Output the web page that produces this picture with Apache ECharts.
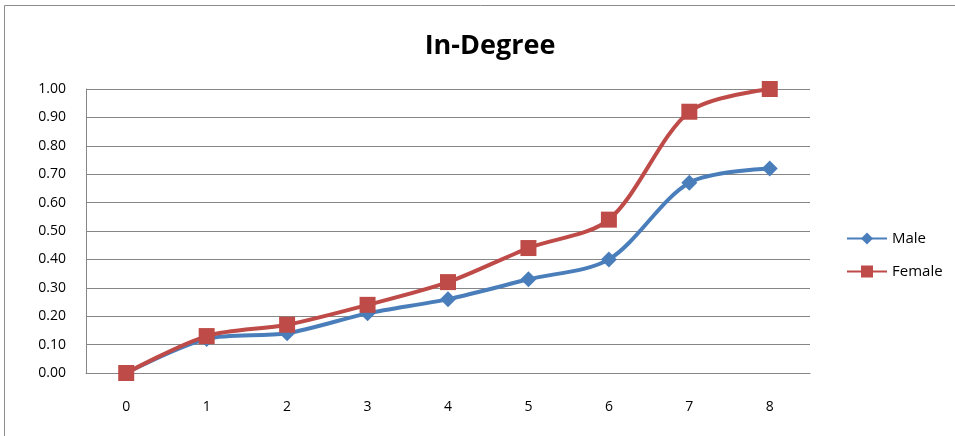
<!DOCTYPE html>
<html>
  <head>
    <meta charset="UTF-8" />
    <title>In-Degree</title>
    <style>
      html, body { margin: 0; padding: 0; background: #fff; }
      #chart { width: 955px; height: 436px; }
    </style>
    <script src="https://cdn.jsdelivr.net/npm/echarts@6/dist/echarts.min.js"></script>
  </head>
  <body>
    <div id="chart"></div>
    <script>
      const categories = ["0", "1", "2", "3", "4", "5", "6", "7", "8"];
      const maleValues = [0.0, 0.12, 0.14, 0.21, 0.26, 0.33, 0.40, 0.67, 0.72];
      const femaleValues = [0.0, 0.13, 0.17, 0.24, 0.32, 0.44, 0.54, 0.92, 1.0];

      const chart = echarts.init(document.getElementById("chart"));
      const font = "'Open Sans', sans-serif";

      chart.setOption({
        animation: false,
        title: {
          text: "In-Degree",
          left: 485,
          textAlign: "center",
          top: 28,
          textStyle: { fontFamily: font, fontSize: 27, fontWeight: "bold", color: "#000" }
        },
        graphic: [
          {
            type: "rect",
            shape: { x: 4.5, y: 5.5, width: 960, height: 440 },
            style: { fill: null, stroke: "#8c8c8c", lineWidth: 1 }
          }
        ],
        legend: {
          orient: "vertical",
          left: 841,
          top: 226,
          itemGap: 18,
          itemWidth: 40,
          itemHeight: 15,
          textStyle: { fontFamily: font, fontSize: 15, color: "#000" },
          data: ["Male", "Female"]
        },
        grid: { left: 86, right: 145, top: 89, bottom: 63 },
        xAxis: {
          type: "category",
          data: categories,
          boundaryGap: true,
          axisLine: { lineStyle: { color: "#868686" } },
          axisTick: { show: false },
          axisLabel: { margin: 27, fontFamily: font, fontSize: 14, color: "#000" }
        },
        yAxis: {
          type: "value",
          min: 0,
          max: 1,
          interval: 0.1,
          axisLine: { show: true, lineStyle: { color: "#868686" } },
          axisTick: { show: false },
          splitLine: { lineStyle: { color: "#868686", width: 1 } },
          axisLabel: {
            margin: 20,
            fontFamily: font,
            fontSize: 14,
            color: "#000",
            formatter: (v) => v.toFixed(2)
          }
        },
        series: [
          {
            name: "Male",
            type: "line",
            data: maleValues,
            smooth: 0.3,
            symbol: "diamond",
            symbolSize: 16,
            lineStyle: { width: 4, color: "#4a7ebb" },
            itemStyle: { color: "#4a7ebb" }
          },
          {
            name: "Female",
            type: "line",
            data: femaleValues,
            smooth: 0.3,
            symbol: "rect",
            symbolSize: 16,
            lineStyle: { width: 4, color: "#be4b48" },
            itemStyle: { color: "#be4b48" }
          }
        ]
      });
    </script>
  </body>
</html>
